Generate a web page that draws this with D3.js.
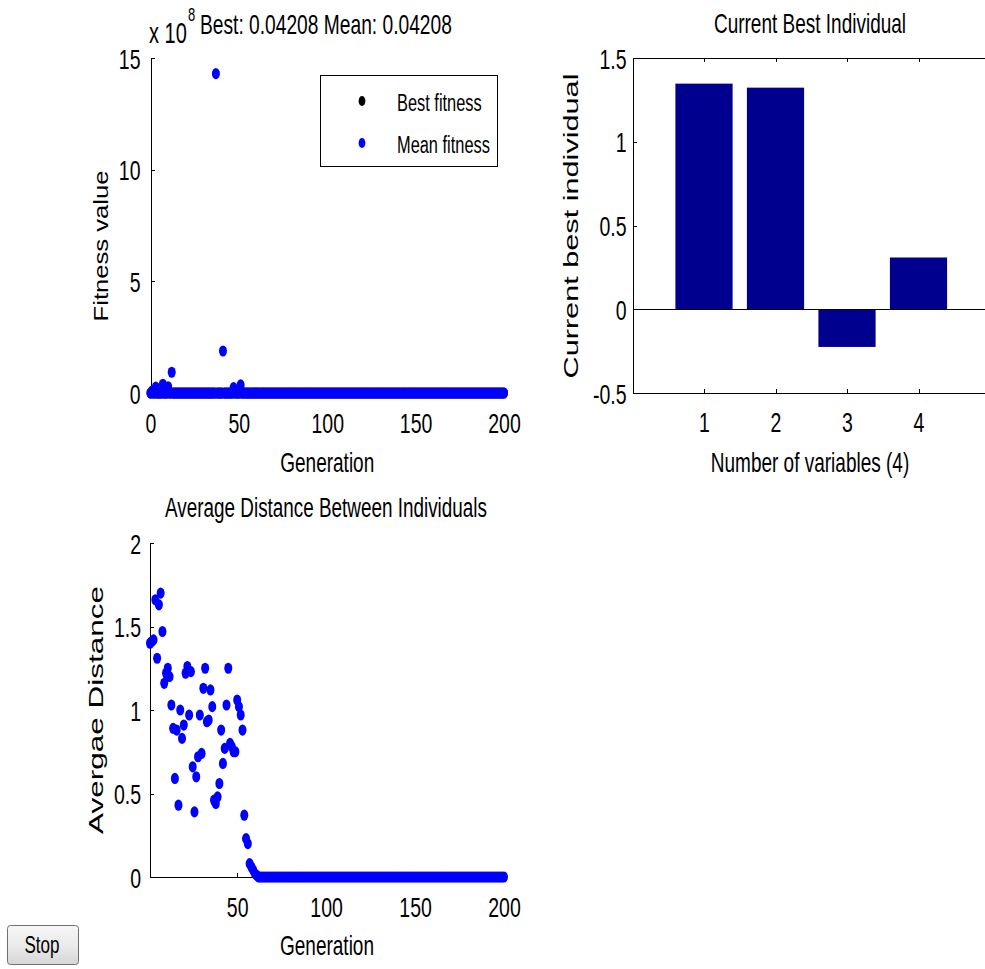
<!DOCTYPE html>
<html><head><meta charset="utf-8">
<script src="https://cdn.jsdelivr.net/npm/d3@7"></script>
<style>
html,body{margin:0;padding:0;background:#fff;}
svg{display:block;}
text{font-family:"Liberation Sans",Arial,Helvetica,sans-serif;fill:#000;}
</style></head><body>
<svg id="c" width="985" height="969"></svg>
<script>
// ---------------- DATA ----------------
// Fitness plot (values in units of 10^8), generations 0..200
const fitnessTicks = [0, 5, 10, 15];
const generationTicks = [0, 50, 100, 150, 200];
const fitnessTitle = "Best: 0.04208 Mean: 0.04208";
const bestFitness = [
0,0,0,0,0,0,0,0,0,0,0,0,0,0,0,0,0,0,0,0,
0,0,0,0,0,0,0,0,0,0,0,0,0,0,0,0,0,0,0,0,
0,0,0,0,0,0,0,0,0,0,0,0,0,0,0,0,0,0,0,0,
0,0,0,0,0,0,0,0,0,0,0,0,0,0,0,0,0,0,0,0,
0,0,0,0,0,0,0,0,0,0,0,0,0,0,0,0,0,0,0,0,
0,0,0,0,0,0,0,0,0,0,0,0,0,0,0,0,0,0,0,0,
0,0,0,0,0,0,0,0,0,0,0,0,0,0,0,0,0,0,0,0,
0,0,0,0,0,0,0,0,0,0,0,0,0,0,0,0,0,0,0,0,
0,0,0,0,0,0,0,0,0,0,0,0,0,0,0,0,0,0,0,0,
0,0,0,0,0,0,0,0,0,0,0,0,0,0,0,0,0,0,0,0,
0];
const meanFitness = [
0,0.1,0,0.26,0,0,0,0.39,0,0,0.28,0,0.93,0,0,0,0,0,0,0,
0,0,0,0,0,0,0,0,0,0,0,0,0,0,0,0,0,14.3,0,0,
0,1.88,0,0,0,0,0,0.24,0,0,0,0.36,0,0,0,0,0,0,0,0,
0,0,0,0,0,0,0,0,0,0,0,0,0,0,0,0,0,0,0,0,
0,0,0,0,0,0,0,0,0,0,0,0,0,0,0,0,0,0,0,0,
0,0,0,0,0,0,0,0,0,0,0,0,0,0,0,0,0,0,0,0,
0,0,0,0,0,0,0,0,0,0,0,0,0,0,0,0,0,0,0,0,
0,0,0,0,0,0,0,0,0,0,0,0,0,0,0,0,0,0,0,0,
0,0,0,0,0,0,0,0,0,0,0,0,0,0,0,0,0,0,0,0,
0,0,0,0,0,0,0,0,0,0,0,0,0,0,0,0,0,0,0,0,
0];
const legendLabels = ["Best fitness", "Mean fitness"];

// Current best individual
const variables = [1, 2, 3, 4];
const bestIndividual = [1.347, 1.323, -0.225, 0.309];
const individualTicks = [-0.5, 0, 0.5, 1, 1.5];

// Average distance, generations 1..200
const distanceTicks = [0, 0.5, 1, 1.5, 2];
const distanceGenTicks = [50, 100, 150, 200];
const avgDistance = [
1.40,1.41,1.42,1.66,1.31,1.63,1.70,1.47,1.16,1.22,1.25,1.20,1.03,0.89,0.59,0.88,0.43,1.00,0.83,0.91,
1.22,1.26,0.97,1.23,0.66,0.39,0.60,0.72,0.97,0.74,1.13,1.25,0.93,0.94,1.12,1.02,0.46,0.44,0.48,0.56,
0.88,0.68,0.77,1.03,1.25,0.80,0.78,0.75,0.75,1.06,1.02,0.97,0.88,0.37,0.23,0.20,0.08,0.06,0.04,0.02,
0.01,0,0,0,0,0,0,0,0,0,0,0,0,0,0,0,0,0,0,0,
0,0,0,0,0,0,0,0,0,0,0,0,0,0,0,0,0,0,0,0,
0,0,0,0,0,0,0,0,0,0,0,0,0,0,0,0,0,0,0,0,
0,0,0,0,0,0,0,0,0,0,0,0,0,0,0,0,0,0,0,0,
0,0,0,0,0,0,0,0,0,0,0,0,0,0,0,0,0,0,0,0,
0,0,0,0,0,0,0,0,0,0,0,0,0,0,0,0,0,0,0,0,
0,0,0,0,0,0,0,0,0,0,0,0,0,0,0,0,0,0,0,0];

// ---------------- DRAW ----------------
const SY = 1.45;
const svg = d3.select("#c");
svg.append("rect").attr("width",985).attr("height",969).attr("fill","#fff");

function txt(g, str, x, y, o = {}) {
  const size = o.size || 19, anchor = o.anchor || "start", s = o.sy || SY;
  return g.append("text")
    .attr("transform", o.rot ? `translate(${x},${y}) rotate(-90) scale(${s},1)` : `translate(${x},${y}) scale(1,${s})`)
    .attr("text-anchor", anchor).attr("font-size", size).text(str);
}
function styleAxis(g, kind, off) {
  g.attr("font-family", null).attr("font-size", 19.5).attr("color", "#000");
  g.selectAll("path,line").attr("shape-rendering", "crispEdges");
  const t = g.selectAll("text");
  if (kind === "left") t.attr("dy", "0.358em").attr("transform", `scale(1,${SY})`);
  else if (kind === "bottom") t.attr("dy", null).attr("y", off / SY).attr("transform", `scale(1,${SY})`);
}
const fmt = d => String(d);
const RX = 4, RY = 5.6;

// ===== Top-left: fitness =====
const xF = d3.scaleLinear().domain([0, 200]).range([150.5, 504]);
const yF = d3.scaleLinear().domain([0, 15]).range([393, 58]);
const gF = svg.append("g");
const axFy = gF.append("g").attr("transform", `translate(${xF(0)},0)`)
  .call(d3.axisLeft(yF).tickValues(fitnessTicks).tickFormat(fmt).tickSizeInner(-4).tickSizeOuter(0).tickPadding(10));
styleAxis(axFy, "left");
const axFx = gF.append("g").attr("transform", `translate(0,${yF(0)})`)
  .call(d3.axisBottom(xF).tickValues(generationTicks).tickFormat(fmt).tickSizeInner(-4).tickSizeOuter(0));
styleAxis(axFx, "bottom", 40);
gF.append("g").selectAll("ellipse").data(bestFitness).join("ellipse")
  .attr("cx", (d, i) => xF(i)).attr("cy", d => yF(d)).attr("rx", RX).attr("ry", RY).attr("fill", "#000");
gF.append("g").selectAll("ellipse").data(meanFitness).join("ellipse")
  .attr("cx", (d, i) => xF(i)).attr("cy", d => yF(d)).attr("rx", RX).attr("ry", RY).attr("fill", "#0000ff");
txt(gF, "x 10", 149, 43, {size: 20});
txt(gF, "8", 188, 21, {size: 13});
txt(gF, fitnessTitle, 200, 34, {size: 19.2});
txt(gF, "Generation", (xF.range()[0] + xF.range()[1]) / 2, 472, {anchor: "middle"});
txt(gF, "Fitness value", 108, 246, {rot: true, size: 21, anchor: "middle", sy: 1.22});
// legend
const lg = gF.append("g");
lg.append("rect").attr("x", 320.5).attr("y", 75.5).attr("width", 177).attr("height", 91)
  .attr("fill", "#fff").attr("stroke", "#000").attr("stroke-width", 1);
const legColors = ["#000", "#0000ff"];
legendLabels.forEach((l, i) => {
  lg.append("ellipse").attr("cx", 362).attr("cy", 101 + i * 42).attr("rx", 3.4).attr("ry", 4.9).attr("fill", legColors[i]);
  txt(lg, l, 397, 111 + i * 42, {size: 16.4});
});

// ===== Top-right: current best individual =====
const xB = d3.scaleLinear().domain([0, 5]).range([632.5, 990]);
const yB = d3.scaleLinear().domain([-0.5, 1.5]).range([393, 58]);
const gB = svg.append("g");
gB.append("g").selectAll("rect").data(bestIndividual).join("rect")
  .attr("x", (d, i) => xB(variables[i] - 0.4)).attr("width", xB(0.8) - xB(0))
  .attr("y", d => yB(Math.max(0, d))).attr("height", d => Math.abs(yB(d) - yB(0)))
  .attr("fill", "#00008f");
gB.append("line").attr("x1", xB(0)).attr("x2", xB(5)).attr("y1", yB(0)).attr("y2", yB(0))
  .attr("stroke", "#000").attr("shape-rendering", "crispEdges");
const axBy = gB.append("g").attr("transform", `translate(${xB(0)},0)`)
  .call(d3.axisLeft(yB).tickValues(individualTicks).tickFormat(fmt).tickSizeInner(-4).tickSizeOuter(0).tickPadding(6));
styleAxis(axBy, "left");
const axBx = gB.append("g").attr("transform", `translate(0,${yB(-0.5)})`)
  .call(d3.axisBottom(xB).tickValues(variables).tickFormat(fmt).tickSizeInner(-4).tickSizeOuter(0));
styleAxis(axBx, "bottom", 39);
const axBt = gB.append("g").attr("transform", `translate(0,${yB(1.5)})`)
  .call(d3.axisTop(xB).tickValues(variables).tickFormat("").tickSizeInner(-4).tickSizeOuter(0));
styleAxis(axBt, "top");
txt(gB, "Current Best Individual", 810, 33, {anchor: "middle"});
txt(gB, "Number of variables (4)", 810, 472, {anchor: "middle"});
txt(gB, "Current best individual", 578, 226, {rot: true, size: 21, anchor: "middle", sy: 1.46});

// ===== Bottom-left: average distance =====
const xD = d3.scaleLinear().domain([1, 200]).range([150, 504]);
const yD = d3.scaleLinear().domain([0, 2]).range([877, 543]);
const gD = svg.append("g");
const axDy = gD.append("g").attr("transform", `translate(${xD(1)},0)`)
  .call(d3.axisLeft(yD).tickValues(distanceTicks).tickFormat(fmt).tickSizeInner(-4).tickSizeOuter(0).tickPadding(9));
styleAxis(axDy, "left");
const axDx = gD.append("g").attr("transform", `translate(0,${yD(0)})`)
  .call(d3.axisBottom(xD).tickValues(distanceGenTicks).tickFormat(fmt).tickSizeInner(-4).tickSizeOuter(0));
styleAxis(axDx, "bottom", 40);
gD.append("g").selectAll("ellipse").data(avgDistance).join("ellipse")
  .attr("cx", (d, i) => xD(i + 1)).attr("cy", d => yD(d)).attr("rx", RX).attr("ry", RY).attr("fill", "#0000ff");
txt(gD, "Average Distance Between Individuals", 326, 517, {anchor: "middle", size: 18.9});
txt(gD, "Generation", (xD.range()[0] + xD.range()[1]) / 2, 955, {anchor: "middle"});
txt(gD, "Avergae Distance", 103, 710, {rot: true, size: 21, anchor: "middle", sy: 1.5});

// ===== Stop button =====
const defs = svg.append("defs");
const gr = defs.append("linearGradient").attr("id", "btn").attr("x1", 0).attr("y1", 0).attr("x2", 0).attr("y2", 1);
gr.append("stop").attr("offset", "0%").attr("stop-color", "#f6f6f6");
gr.append("stop").attr("offset", "50%").attr("stop-color", "#ebebeb");
gr.append("stop").attr("offset", "100%").attr("stop-color", "#d6d6d6");
const bt = svg.append("g");
bt.append("rect").attr("x", 7.5).attr("y", 925.5).attr("width", 71).attr("height", 39).attr("rx", 3)
  .attr("fill", "url(#btn)").attr("stroke", "#707070");
txt(bt, "Stop", 42, 953, {anchor: "middle", size: 17, sy: 1.4});
</script>
</body></html>
